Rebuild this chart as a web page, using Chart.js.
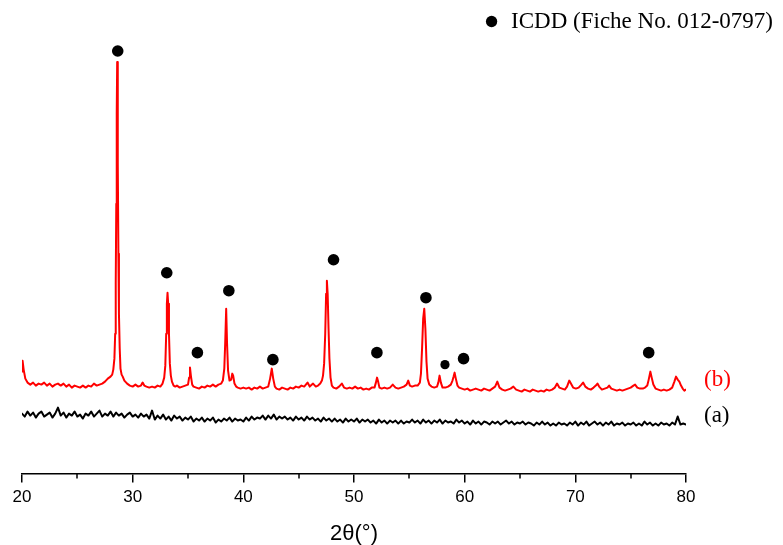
<!DOCTYPE html>
<html>
<head>
<meta charset="utf-8">
<script src="https://cdn.jsdelivr.net/npm/chart.js@4.4.1/dist/chart.umd.min.js"></script>
<style>
  html, body { margin: 0; padding: 0; background: #ffffff; }
  #wrap { width: 783px; height: 545px; }
</style>
</head>
<body>
<div id="wrap"><canvas id="c" width="783" height="545"></canvas></div>
<script>
// ---- DATA (2θ in degrees, intensity in arbitrary units) ----
const majorTicks = [20, 30, 40, 50, 60, 70, 80];
const minorTicks = [25, 35, 45, 55, 65, 75];
const axisTitle = '2θ(°)';
const legendText = 'ICDD (Fiche No. 012-0797)';
const curveLabels = ['(b)', '(a)'];
const curveLabelLevels = [94, 58];

// sample (b) : red pattern
const patternB = [
[20.00,102],[20.05,113],[20.15,104],[20.30,95],[20.50,91],[20.75,89],[21.00,91],[21.25,88],[21.50,90],[21.75,89],
[22.00,91],[22.25,88],[22.50,90],[22.75,87],[23.00,89],[23.25,90],[23.50,88],[23.75,90],[24.00,87],[24.25,89],
[24.50,86],[24.75,88],[25.00,87],[25.25,86],[25.50,88],[25.75,86],[26.00,88],[26.25,87],[26.50,90],[26.75,88],
[27.00,89],[27.25,90],[27.50,92],[27.75,95],[28.00,97],[28.15,99],[28.25,104],[28.35,115],[28.42,140],[28.47,190],
[28.52,270],[28.56,360],[28.60,412],[28.64,385],[28.67,310],[28.71,220],[28.76,160],[28.83,125],[28.90,105],[29.00,99],
[29.10,97],[29.25,93],[29.50,90],[29.75,88],[30.00,87],[30.25,89],[30.50,87],[30.75,88],[30.90,91],[31.05,88],
[31.25,87],[31.50,86],[31.75,87],[32.00,86],[32.25,88],[32.50,87],[32.70,90],[32.85,96],[32.95,108],[33.03,140],
[33.09,170],[33.15,181],[33.21,170],[33.28,140],[33.36,110],[33.45,98],[33.55,92],[33.70,88],[33.85,87],[34.00,88],
[34.25,86],[34.50,87],[34.75,88],[35.00,89],[35.10,96],[35.18,106],[35.27,97],[35.38,89],[35.50,87],[35.75,86],
[36.00,85],[36.25,87],[36.50,86],[36.75,88],[37.00,87],[37.25,89],[37.50,87],[37.75,89],[38.00,90],[38.15,93],
[38.28,105],[38.36,130],[38.45,165],[38.53,130],[38.62,103],[38.75,93],[38.90,94],[39.00,100],[39.08,98],[39.20,90],
[39.35,87],[39.50,86],[39.75,85],[40.00,86],[40.25,85],[40.50,86],[40.75,84],[41.00,86],[41.25,85],[41.50,87],
[41.75,85],[42.00,86],[42.25,87],[42.42,95],[42.57,105],[42.70,95],[42.85,87],[43.00,85],[43.25,84],[43.50,86],
[43.75,85],[44.00,84],[44.25,86],[44.50,85],[44.75,87],[45.00,86],[45.25,88],[45.50,87],[45.80,91],[46.00,87],
[46.30,90],[46.55,87],[46.75,88],[46.95,90],[47.10,93],[47.20,98],[47.30,110],[47.40,140],[47.48,180],[47.55,193],
[47.62,180],[47.70,145],[47.78,115],[47.88,96],[48.00,88],[48.15,86],[48.40,85],[48.65,87],[48.90,90],[49.10,86],
[49.35,85],[49.60,86],[49.85,85],[50.10,87],[50.35,85],[50.60,86],[50.85,84],[51.10,85],[51.35,84],[51.60,86],
[51.85,86],[51.98,91],[52.08,96],[52.18,92],[52.30,86],[52.50,85],[52.75,86],[53.00,85],[53.25,86],[53.50,89],
[53.75,86],[54.00,85],[54.25,86],[54.50,87],[54.75,89],[54.90,93],[55.05,88],[55.25,87],[55.50,88],[55.75,88],
[55.95,91],[56.05,100],[56.15,125],[56.25,155],[56.35,165],[56.45,145],[56.55,112],[56.65,95],[56.80,89],[57.00,87],
[57.25,86],[57.50,87],[57.62,91],[57.73,98],[57.85,91],[58.00,86],[58.25,86],[58.50,87],[58.75,89],[58.90,93],
[59.00,97],[59.09,101],[59.20,95],[59.35,88],[59.50,86],[59.75,85],[60.00,84],[60.25,85],[60.50,83],[60.75,84],
[61.00,85],[61.25,84],[61.50,83],[61.75,85],[62.00,84],[62.25,83],[62.50,85],[62.75,87],[62.95,92],[63.15,86],
[63.40,84],[63.65,83],[63.90,84],[64.15,85],[64.40,87],[64.65,84],[64.90,83],[65.15,82],[65.40,84],[65.65,83],
[65.90,82],[66.15,84],[66.40,83],[66.65,82],[66.90,83],[67.15,82],[67.40,84],[67.65,83],[67.90,84],[68.15,86],
[68.35,90],[68.55,86],[68.80,85],[69.05,84],[69.25,87],[69.45,93],[69.60,90],[69.80,86],[70.05,85],[70.30,86],
[70.55,89],[70.70,91],[70.90,87],[71.15,85],[71.40,84],[71.65,86],[71.85,88],[72.00,90],[72.15,87],[72.40,84],
[72.65,85],[72.90,86],[73.05,88],[73.25,85],[73.50,84],[73.75,83],[74.00,84],[74.25,83],[74.50,84],[74.75,85],
[75.00,86],[75.25,88],[75.40,89],[75.60,86],[75.85,85],[76.10,85],[76.30,86],[76.50,88],[76.63,94],[76.78,102],
[76.90,96],[77.05,89],[77.25,85],[77.50,84],[77.75,83],[78.00,84],[78.25,83],[78.50,84],[78.75,86],[78.95,92],
[79.10,97],[79.25,94],[79.40,92],[79.55,88],[79.70,85],[79.85,83],[80.00,84]
];

// sample (a) : black pattern
const patternA = [
[20.00,60],[20.25,57],[20.50,62],[20.75,58],[21.00,61],[21.25,56],[21.50,60],[21.75,62],[22.00,57],[22.25,59],
[22.50,61],[22.75,56],[23.00,60],[23.25,66],[23.50,58],[23.75,61],[24.00,56],[24.25,60],[24.50,58],[24.75,62],
[25.00,57],[25.25,59],[25.50,55],[25.75,60],[26.00,58],[26.25,62],[26.50,57],[26.75,60],[27.00,63],[27.25,57],
[27.50,60],[27.75,58],[28.00,62],[28.25,57],[28.50,61],[28.75,58],[29.00,60],[29.25,56],[29.50,59],[29.75,61],
[30.00,57],[30.25,59],[30.50,56],[30.75,60],[31.00,57],[31.25,59],[31.50,55],[31.75,63],[32.00,54],[32.25,58],
[32.50,55],[32.75,59],[33.00,54],[33.25,57],[33.50,53],[33.75,58],[34.00,55],[34.25,57],[34.50,53],[34.75,56],
[35.00,54],[35.25,57],[35.50,52],[35.75,55],[36.00,53],[36.25,56],[36.50,52],[36.75,55],[37.00,53],[37.25,56],
[37.50,51],[37.75,54],[38.00,52],[38.25,55],[38.50,53],[38.75,56],[39.00,52],[39.25,55],[39.50,53],[39.75,54],
[40.00,52],[40.25,56],[40.50,53],[40.75,57],[41.00,54],[41.25,56],[41.50,55],[41.75,58],[42.00,54],[42.25,58],
[42.50,55],[42.75,59],[43.00,54],[43.25,57],[43.50,55],[43.75,57],[44.00,54],[44.25,56],[44.50,53],[44.75,57],
[45.00,54],[45.25,56],[45.50,53],[45.75,57],[46.00,54],[46.25,56],[46.50,53],[46.75,55],[47.00,52],[47.25,56],
[47.50,53],[47.75,55],[48.00,52],[48.25,55],[48.50,52],[48.75,54],[49.00,51],[49.25,55],[49.50,52],[49.75,54],
[50.00,52],[50.25,55],[50.50,51],[50.75,54],[51.00,52],[51.25,54],[51.50,51],[51.75,53],[52.00,50],[52.25,54],
[52.50,51],[52.75,53],[53.00,50],[53.25,53],[53.50,51],[53.75,53],[54.00,50],[54.25,53],[54.50,50],[54.75,52],
[55.00,51],[55.25,54],[55.50,51],[55.75,53],[56.00,50],[56.25,54],[56.50,51],[56.75,53],[57.00,50],[57.25,53],
[57.50,51],[57.75,54],[58.00,50],[58.25,53],[58.50,51],[58.75,52],[59.00,50],[59.25,54],[59.50,51],[59.75,53],
[60.00,50],[60.25,52],[60.50,49],[60.75,53],[61.00,50],[61.25,52],[61.50,49],[61.75,52],[62.00,51],[62.25,49],
[62.50,52],[62.75,50],[63.00,52],[63.25,49],[63.50,51],[63.75,53],[64.00,50],[64.25,52],[64.50,49],[64.75,51],
[65.00,50],[65.25,52],[65.50,49],[65.75,51],[66.00,50],[66.25,48],[66.50,51],[66.75,49],[67.00,52],[67.25,49],
[67.50,51],[67.75,48],[68.00,50],[68.25,48],[68.50,51],[68.75,49],[69.00,50],[69.25,48],[69.50,51],[69.75,49],
[70.00,52],[70.25,48],[70.50,51],[70.75,49],[71.00,52],[71.25,48],[71.50,50],[71.75,52],[72.00,49],[72.25,51],
[72.50,48],[72.75,51],[73.00,49],[73.25,52],[73.50,48],[73.75,50],[74.00,49],[74.25,51],[74.50,48],[74.75,50],
[75.00,49],[75.25,51],[75.50,48],[75.75,50],[76.00,48],[76.25,52],[76.50,49],[76.75,51],[77.00,48],[77.25,50],
[77.50,48],[77.75,51],[78.00,49],[78.25,50],[78.50,48],[78.75,51],[79.00,49],[79.25,57],[79.50,49],[79.75,50],
[80.00,49]
];

// ICDD reference markers (2θ, marker height)
const icddMarkers = [
[28.65,423],[33.08,201],[35.85,121],[38.69,183],[42.67,114],[48.15,214],
[52.07,121],[56.50,176],[58.22,109],[59.90,115],[76.63,121]
];
const icddMarkerSizes = [5.8,5.8,5.8,5.8,5.8,5.8,5.8,5.8,4.6,5.8,5.8];

const yMin = 0;
const yMax = 431;

// ---- CHART ----
const sansFont = "'Liberation Sans', Arial, sans-serif";
const serifFont = "'Liberation Serif', 'Times New Roman', serif";

const minorTickPlugin = {
  id: 'minorTicks',
  afterDraw(chart) {
    const xs = chart.scales.x;
    const ctx = chart.ctx;
    const y0 = chart.chartArea.bottom;
    ctx.save();
    ctx.strokeStyle = '#000';
    ctx.lineWidth = 1.5;
    minorTicks.forEach(v => {
      const px = Math.round(xs.getPixelForValue(v));
      ctx.beginPath();
      ctx.moveTo(px, y0);
      ctx.lineTo(px, y0 + 5);
      ctx.stroke();
    });
    ctx.restore();
  }
};

new Chart(document.getElementById('c'), {
  type: 'line',
  data: {
    datasets: [
      {
        label: legendText,
        type: 'scatter',
        data: icddMarkers,
        pointStyle: 'circle',
        pointRadius: icddMarkerSizes,
        pointBackgroundColor: '#000',
        backgroundColor: '#000',
        borderColor: '#000',
        pointBorderWidth: 0,
        borderWidth: 0,
        showLine: false,
        clip: false,
        order: 0
      },
      {
        label: 'b',
        data: patternB,
        borderColor: '#ff0000',
        borderWidth: 2,
        borderJoinStyle: 'round',
        borderCapStyle: 'round',
        pointRadius: 0,
        tension: 0,
        fill: false,
        order: 1
      },
      {
        label: 'a',
        data: patternA,
        borderColor: '#000000',
        borderWidth: 2,
        borderJoinStyle: 'round',
        borderCapStyle: 'round',
        pointRadius: 0,
        tension: 0,
        fill: false,
        order: 2
      }
    ]
  },
  options: {
    responsive: false,
    animation: false,
    devicePixelRatio: 1,
    layout: { padding: { left: 22, right: 0, top: 0, bottom: 0 } },
    plugins: {
      tooltip: { enabled: false },
      title: { display: false },
      legend: {
        display: true,
        position: 'top',
        align: 'end',
        labels: {
          usePointStyle: true,
          boxWidth: 16,
          boxHeight: 8,
          padding: 10,
          color: '#000',
          font: { family: serifFont, size: 23 },
          filter: item => item.datasetIndex === 0
        }
      }
    },
    scales: {
      x: {
        type: 'linear',
        min: 20,
        max: 80,
        afterBuildTicks: axis => { axis.ticks = majorTicks.map(v => ({ value: v })); },
        ticks: {
          color: '#000',
          font: { family: sansFont, size: 17 },
          padding: 5,
          autoSkip: false,
          maxRotation: 0
        },
        grid: {
          display: true,
          drawOnChartArea: false,
          drawTicks: true,
          tickLength: 9,
          color: '#000',
          lineWidth: 1.5
        },
        border: { display: true, color: '#000', width: 1.5 },
        title: {
          display: true,
          text: axisTitle,
          color: '#000',
          font: { family: sansFont, size: 22, lineHeight: 1.05 },
          padding: { top: 9, bottom: 0 }
        }
      },
      y: {
        display: false,
        min: yMin,
        max: yMax
      },
      y2: {
        position: 'right',
        min: yMin,
        max: yMax,
        afterBuildTicks: axis => { axis.ticks = curveLabelLevels.map(v => ({ value: v })); },
        afterFit: axis => { axis.width = 97; },
        ticks: {
          autoSkip: false,
          padding: 18,
          font: { family: serifFont, size: 23 },
          color: ctx => (ctx.index === 0 ? '#ff0000' : '#000'),
          callback: (value, index) => curveLabels[index]
        },
        grid: { display: false, drawTicks: false },
        border: { display: false }
      }
    }
  },
  plugins: [minorTickPlugin]
});
</script>
</body>
</html>
